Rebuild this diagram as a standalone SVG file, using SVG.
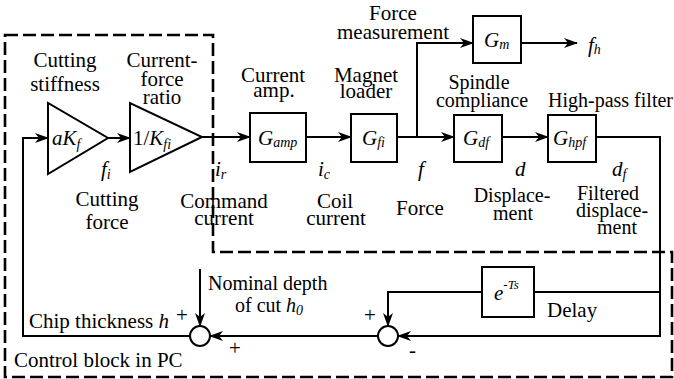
<svg xmlns="http://www.w3.org/2000/svg" width="674" height="379" viewBox="0 0 674 379">
<style>
text{font-family:Liberation Serif,Times New Roman,DejaVu Serif,serif;font-size:21px;fill:#000}
.c{text-anchor:middle}
.s{font-size:20px}
.i{font-style:italic}
.sub{font-size:14px;font-style:italic}
.blk{fill:#fff;stroke:#000;stroke-width:2}
.ln{fill:none;stroke:#000;stroke-width:2}
.dash{fill:none;stroke:#000;stroke-width:2.6;stroke-dasharray:13 5}
</style>
<defs>
<marker id="ar" viewBox="0 0 14 10" refX="13" refY="5" markerWidth="14" markerHeight="10" markerUnits="userSpaceOnUse" orient="auto">
<path d="M0,0 L14,5 L0,10 L4,5 Z" fill="#000"/>
</marker>
</defs>
<rect width="674" height="379" fill="#fff"/>

<g id="pc-boundary">
<path class="dash" d="M5,35 H213 V252 H672 V377 H5 Z"/>
<text x="14" y="367">Control block in PC</text>
</g>

<g id="connectors">
<path class="ln" marker-end="url(#ar)" d="M190,336 H23 V138 H48"/>
<path class="ln" marker-end="url(#ar)" d="M108,138 H130"/>
<path class="ln" marker-end="url(#ar)" d="M202,137 H250"/>
<path class="ln" marker-end="url(#ar)" d="M306,137 H351"/>
<path class="ln" marker-end="url(#ar)" d="M397,137 H454"/>
<path class="ln" marker-end="url(#ar)" d="M417,137 V43 H473"/>
<path class="ln" marker-end="url(#ar)" d="M521,43 H577"/>
<path class="ln" marker-end="url(#ar)" d="M502,137 H548"/>
<path class="ln" marker-end="url(#ar)" d="M596,137 H660 V336 H398"/>
<path class="ln" d="M660,292 H534"/>
<path class="ln" marker-end="url(#ar)" d="M482,292 H388 V326"/>
<path class="ln" marker-end="url(#ar)" d="M378,336 H210"/>
<path class="ln" marker-end="url(#ar)" d="M200,269 V326"/>
</g>

<g id="cutting-stiffness">
<polygon class="blk" points="48,103 48,174 108,138"/>
<text x="52" y="145"><tspan class="i">aK</tspan><tspan class="sub" dy="4">f</tspan></text>
<text class="c" x="65" y="67">Cutting</text>
<text class="c" x="65" y="91">stiffness</text>
</g>

<g id="current-force-ratio">
<polygon class="blk" points="130,103 130,172 202,137"/>
<text x="133" y="145">1/<tspan class="i">K</tspan><tspan class="sub" dy="4">fi</tspan></text>
<text class="c" x="162" y="67">Current-</text>
<text class="c" x="162" y="86">force</text>
<text class="c" x="162" y="104">ratio</text>
</g>

<g id="current-amp">
<rect class="blk" x="250" y="113" width="56" height="49"/>
<text x="258" y="145"><tspan class="i">G</tspan><tspan class="sub" dy="2">amp</tspan></text>
<text class="c" x="273" y="82">Current</text>
<text class="c" x="274" y="97">amp.</text>
</g>

<g id="magnet-loader">
<rect class="blk" x="351" y="114" width="46" height="48"/>
<text x="362" y="145"><tspan class="i">G</tspan><tspan class="sub" dy="2">fi</tspan></text>
<text class="c" x="366" y="82">Magnet</text>
<text class="c" x="366" y="98">loader</text>
</g>

<g id="force-measurement">
<rect class="blk" x="473" y="16" width="48" height="47"/>
<text x="484" y="47"><tspan class="i">G</tspan><tspan class="sub" dy="2">m</tspan></text>
<text class="c" x="393" y="20">Force</text>
<text class="c" x="393" y="39">measurement</text>
<text x="588" y="52"><tspan class="i">f</tspan><tspan class="sub" dy="2">h</tspan></text>
</g>

<g id="spindle-compliance">
<rect class="blk" x="454" y="115" width="48" height="47"/>
<text x="463" y="145"><tspan class="i">G</tspan><tspan class="sub" dy="2">df</tspan></text>
<text class="c s" x="479" y="89">Spindle</text>
<text class="c s" x="482" y="107">compliance</text>
</g>

<g id="high-pass-filter">
<rect class="blk" x="548" y="115" width="48" height="47"/>
<text x="553" y="145"><tspan class="i">G</tspan><tspan class="sub" dy="2">hpf</tspan></text>
<text class="s" x="548" y="107">High-pass filter</text>
</g>

<g id="delay">
<rect class="blk" x="482" y="267" width="52" height="50"/>
<text x="494" y="300"><tspan class="i">e</tspan><tspan font-size="13" dy="-11">-</tspan><tspan class="i" font-size="13">Ts</tspan></text>
<text x="547" y="317">Delay</text>
</g>

<g id="sum-depth">
<circle class="blk" cx="200" cy="336" r="10"/>
<text x="176" y="322">+</text>
<text x="229" y="355">+</text>
</g>

<g id="sum-delay">
<circle class="blk" cx="388" cy="336" r="10"/>
<text x="364" y="322">+</text>
<text x="409" y="357">-</text>
</g>

<g id="signal-labels">
<text x="101" y="176"><tspan class="i">f</tspan><tspan class="sub" dy="3">i</tspan></text>
<text x="215" y="176"><tspan class="i">i</tspan><tspan class="sub" dy="3">r</tspan></text>
<text x="318" y="176"><tspan class="i">i</tspan><tspan class="sub" dy="3">c</tspan></text>
<text class="i" x="418" y="176">f</text>
<text class="i" x="515" y="176">d</text>
<text x="612" y="176"><tspan class="i">d</tspan><tspan class="sub" dy="3">f</tspan></text>
<text class="c" x="107" y="206">Cutting</text>
<text class="c" x="107" y="229">force</text>
<text class="c" x="224" y="208">Command</text>
<text class="c" x="224" y="225">current</text>
<text class="c" x="335" y="208">Coil</text>
<text class="c" x="336" y="225">current</text>
<text class="c" x="420" y="215">Force</text>
<text class="c s" x="512" y="202">Displace-</text>
<text class="c s" x="513" y="220">ment</text>
<text class="c s" x="608" y="200">Filtered</text>
<text class="c s" x="612" y="217">displace-</text>
<text class="c s" x="617" y="234">ment</text>
<text class="s" x="208" y="290">Nominal depth</text>
<text class="s" x="235" y="312">of cut <tspan class="i">h</tspan><tspan class="sub" dy="3">0</tspan></text>
<text x="29" y="328">Chip thickness <tspan class="i">h</tspan></text>
</g>
</svg>
